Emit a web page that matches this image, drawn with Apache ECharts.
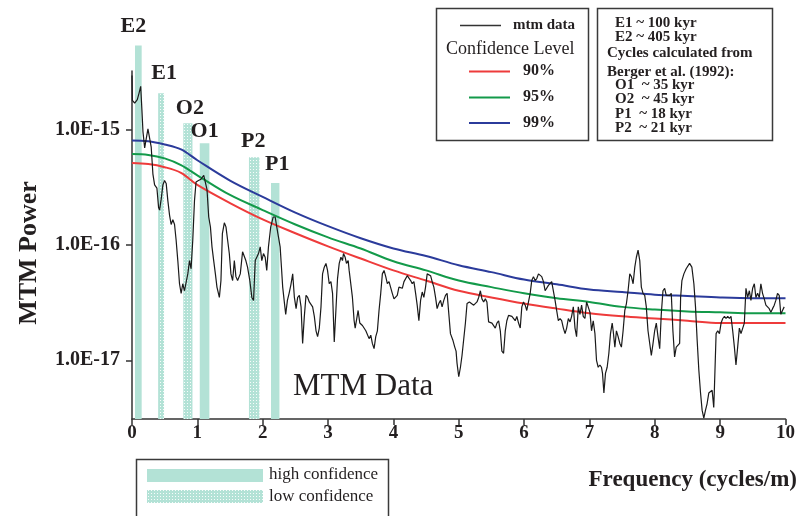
<!DOCTYPE html>
<html><head><meta charset="utf-8">
<script src="https://cdn.jsdelivr.net/npm/echarts@6/dist/echarts.min.js"></script>
<style>html,body{margin:0;padding:0;background:#fff}#c{width:798px;height:516px}</style>
</head><body><div id="c"></div>
<script>
const SERIF = "'Liberation Serif','Times New Roman',serif";
const INK = '#231f20';
const TEAL = '#b3e2d6';

// ---- data ----
const yTicks = [1e-17, 1e-16, 1e-15];
const xTicks = [0,1,2,3,4,5,6,7,8,9,10];

const barNames = ['E2','E1','O2','O1','P2','P1'];
const barFrom = [0.046, 0.40, 0.785, 1.037, 1.79, 2.127];
const barTo   = [0.148, 0.49, 0.925, 1.184, 1.95, 2.256];
const barTop  = [5.33e-15, 2.05e-15, 1.13e-15, 7.56e-16, 5.72e-16, 3.43e-16];
const barConfidence = ['high','low','low','high','low','high'];

const confFreq = [0,0.25,0.5,0.75,1,1.5,2,2.5,3,3.5,4,4.5,5,5.5,6,6.5,7,7.5,8,8.5,9,9.5,10];
const conf99 = [8.0e-16,7.9e-16,7.4e-16,6.7e-16,5.4e-16,3.6e-16,2.6e-16,1.9e-16,1.45e-16,1.14e-16,9.3e-17,8.0e-17,6.65e-17,5.8e-17,5.0e-17,4.55e-17,4.1e-17,3.9e-17,3.7e-17,3.6e-17,3.5e-17,3.45e-17,3.45e-17];
const conf95 = [6.1e-16,6.0e-16,5.6e-16,4.9e-16,4.0e-16,2.7e-16,2.0e-16,1.5e-16,1.16e-16,9.3e-17,7.2e-17,6.0e-17,4.9e-17,4.3e-17,3.8e-17,3.45e-17,3.2e-17,2.9e-17,2.75e-17,2.65e-17,2.6e-17,2.55e-17,2.55e-17];
const conf90 = [5.1e-16,5.0e-16,4.7e-16,4.2e-16,3.3e-16,2.3e-16,1.66e-16,1.26e-16,9.7e-17,7.6e-17,6.0e-17,4.9e-17,4.0e-17,3.5e-17,3.1e-17,2.8e-17,2.55e-17,2.4e-17,2.3e-17,2.2e-17,2.1e-17,2.1e-17,2.1e-17];

const mtmData = [
[0.000,2.93e-15],[0.005,1.78e-15],[0.041,1.69e-15],[0.081,1.81e-15],[0.107,2.05e-15],[0.133,2.36e-15],[0.152,1.46e-15],[0.168,9.5e-16],[0.194,6.9e-16],[0.218,8.3e-16],[0.244,1.01e-15],[0.270,1.05e-15],[0.294,7.0e-16],[0.320,4.1e-16],[0.346,3.3e-16],[0.381,3.1e-16],[0.407,2.1e-16],[0.422,2.0e-16],[0.447,2.5e-16],[0.473,3.3e-16],[0.498,3.6e-16],[0.523,3.4e-16],[0.549,2.4e-16],[0.575,1.8e-16],[0.599,1.5e-16],[0.625,1.65e-16],[0.651,1.5e-16],[0.675,1.1e-16],[0.701,7.3e-17],[0.727,4.6e-17],[0.752,3.8e-17],[0.777,4.6e-17],[0.803,4.0e-17],[0.828,4.0e-17],[0.854,5.6e-17],[0.880,7.3e-17],[0.904,6.2e-17],[0.930,1.1e-16],[0.956,2.4e-16],[0.980,3.5e-16],[1.017,3.6e-16],[1.056,3.7e-16],[1.098,4.0e-16],[1.123,4.0e-16],[1.148,3.0e-16],[1.174,1.74e-16],[1.200,1.43e-16],[1.224,9.6e-17],[1.250,7.3e-17],[1.276,5.6e-17],[1.300,4.3e-17],[1.337,3.5e-17],[1.361,4.9e-17],[1.383,1.25e-16],[1.413,1.55e-16],[1.438,1.43e-16],[1.463,1.1e-16],[1.489,8.4e-17],[1.514,5.6e-17],[1.540,4.9e-17],[1.566,7.3e-17],[1.590,5.3e-17],[1.616,4.9e-17],[1.657,5.6e-17],[1.692,8.7e-17],[1.718,9.0e-17],[1.742,7.3e-17],[1.768,6.4e-17],[1.803,4.9e-17],[1.834,3.5e-17],[1.860,3.3e-17],[1.886,7.3e-17],[1.910,7.3e-17],[1.936,8.4e-17],[1.962,9.6e-17],[1.986,7.3e-17],[2.012,8.4e-17],[2.038,7.8e-17],[2.062,6.0e-17],[2.088,9.6e-17],[2.123,1.43e-16],[2.160,1.74e-16],[2.191,1.74e-16],[2.215,1.43e-16],[2.241,1.17e-16],[2.267,9.6e-17],[2.287,6.4e-17],[2.306,4.3e-17],[2.328,3.3e-17],[2.352,2.5e-17],[2.378,3.3e-17],[2.404,3.8e-17],[2.431,4.5e-17],[2.459,5.6e-17],[2.485,3.5e-17],[2.511,2.8e-17],[2.535,3.5e-17],[2.561,3.65e-17],[2.587,2.9e-17],[2.611,1.4e-17],[2.637,2.4e-17],[2.663,3.65e-17],[2.688,3.5e-17],[2.713,3.2e-17],[2.739,3.3e-17],[2.764,2.9e-17],[2.790,2.4e-17],[2.816,1.8e-17],[2.840,1.6e-17],[2.866,1.9e-17],[2.892,2.9e-17],[2.916,5.6e-17],[2.942,6.4e-17],[2.968,6.9e-17],[2.992,6.0e-17],[3.018,4.6e-17],[3.044,4.8e-17],[3.069,3.8e-17],[3.095,1.44e-17],[3.120,2.7e-17],[3.145,5.1e-17],[3.171,6.9e-17],[3.197,7.8e-17],[3.221,7.3e-17],[3.236,8.4e-17],[3.262,7.8e-17],[3.282,6.9e-17],[3.308,7.3e-17],[3.323,6.0e-17],[3.349,5.8e-17],[3.373,3.5e-17],[3.399,2.2e-17],[3.415,1.9e-17],[3.434,1.9e-17],[3.460,2.7e-17],[3.486,2.1e-17],[3.526,2.0e-17],[3.578,1.8e-17],[3.628,1.54e-17],[3.654,1.65e-17],[3.678,1.4e-17],[3.704,1.26e-17],[3.730,1.6e-17],[3.755,1.8e-17],[3.780,2.7e-17],[3.806,3.8e-17],[3.831,5.6e-17],[3.857,6.0e-17],[3.883,5.3e-17],[3.907,4.6e-17],[3.933,4.8e-17],[3.959,4.9e-17],[3.983,3.8e-17],[4.009,3.4e-17],[4.035,3.5e-17],[4.059,3.65e-17],[4.085,4.3e-17],[4.111,4.45e-17],[4.136,4.2e-17],[4.162,4.8e-17],[4.188,4.9e-17],[4.212,5.4e-17],[4.238,5.3e-17],[4.264,4.9e-17],[4.288,4.6e-17],[4.314,4.8e-17],[4.340,3.8e-17],[4.364,3.0e-17],[4.390,2.2e-17],[4.416,3.3e-17],[4.441,3.9e-17],[4.466,3.5e-17],[4.492,4.3e-17],[4.517,5.6e-17],[4.543,5.7e-17],[4.569,5.4e-17],[4.593,4.8e-17],[4.619,4.3e-17],[4.645,3.5e-17],[4.669,2.8e-17],[4.695,3.1e-17],[4.721,3.3e-17],[4.745,2.9e-17],[4.771,3.3e-17],[4.797,3.65e-17],[4.822,3.8e-17],[4.848,3.8e-17],[4.873,1.7e-17],[4.909,1.5e-17],[4.939,1.3e-17],[4.959,1.2e-17],[4.974,9.4e-18],[5.000,7.2e-18],[5.026,8.7e-18],[5.050,1.1e-17],[5.076,1.07e-17],[5.102,2.1e-17],[5.127,3.1e-17],[5.163,3.2e-17],[5.188,3.1e-17],[5.229,3.0e-17],[5.255,3.1e-17],[5.279,3.2e-17],[5.305,3.5e-17],[5.331,4.0e-17],[5.355,3.4e-17],[5.381,3.2e-17],[5.407,3.4e-17],[5.431,3.2e-17],[5.457,2.15e-17],[5.483,2.1e-17],[5.508,2.1e-17],[5.559,1.9e-17],[5.584,2.1e-17],[5.610,2.2e-17],[5.636,1.8e-17],[5.660,1.2e-17],[5.686,1.15e-17],[5.712,1.8e-17],[5.736,2.2e-17],[5.762,2.45e-17],[5.788,2.4e-17],[5.813,2.4e-17],[5.838,2.45e-17],[5.864,2.2e-17],[5.889,2.4e-17],[5.915,2.1e-17],[5.941,1.9e-17],[5.965,2.9e-17],[5.991,3.2e-17],[6.017,3.0e-17],[6.041,2.7e-17],[6.067,2.8e-17],[6.093,3.8e-17],[6.117,4.9e-17],[6.143,5.3e-17],[6.169,4.9e-17],[6.194,5.1e-17],[6.220,5.6e-17],[6.245,5.4e-17],[6.270,5.3e-17],[6.296,4.8e-17],[6.322,4.0e-17],[6.372,4.45e-17],[6.422,4.8e-17],[6.448,4.9e-17],[6.474,3.3e-17],[6.498,2.7e-17],[6.524,2.2e-17],[6.550,2.3e-17],[6.575,2.2e-17],[6.601,1.9e-17],[6.627,1.7e-17],[6.651,1.9e-17],[6.677,2.3e-17],[6.703,2.15e-17],[6.727,2.4e-17],[6.753,2.9e-17],[6.779,1.9e-17],[6.803,1.6e-17],[6.829,2.9e-17],[6.855,2.5e-17],[6.880,3.0e-17],[6.905,2.4e-17],[6.931,2.3e-17],[6.956,3.2e-17],[6.982,3.1e-17],[7.008,2.6e-17],[7.032,1.8e-17],[7.058,2.2e-17],[7.084,1.7e-17],[7.108,1.0e-17],[7.134,8.7e-18],[7.160,9.1e-18],[7.184,8.7e-18],[7.200,7.7e-18],[7.221,5.2e-18],[7.245,7.7e-18],[7.271,8.7e-18],[7.297,1.15e-17],[7.322,1.7e-17],[7.348,2.1e-17],[7.363,1.8e-17],[7.389,1.3e-17],[7.413,1.8e-17],[7.439,1.6e-17],[7.465,1.4e-17],[7.489,1.3e-17],[7.515,1.8e-17],[7.541,2.7e-17],[7.566,3.1e-17],[7.591,4.0e-17],[7.617,5.6e-17],[7.642,5.3e-17],[7.668,4.6e-17],[7.694,6.4e-17],[7.718,7.8e-17],[7.744,9.0e-17],[7.770,7.3e-17],[7.794,4.3e-17],[7.820,3.8e-17],[7.846,3.65e-17],[7.870,2.9e-17],[7.896,1.8e-17],[7.922,1.8e-17],[7.947,1.1e-17],[7.973,1.4e-17],[7.998,1.8e-17],[8.023,2.1e-17],[8.049,1.6e-17],[8.075,1.26e-17],[8.099,2.5e-17],[8.125,4.0e-17],[8.151,4.2e-17],[8.175,3.65e-17],[8.201,3.65e-17],[8.227,3.65e-17],[8.252,3.8e-17],[8.277,1.8e-17],[8.303,1.07e-17],[8.328,1.3e-17],[8.354,1.35e-17],[8.380,1.4e-17],[8.395,3.5e-17],[8.415,4.9e-17],[8.445,5.6e-17],[8.480,6.2e-17],[8.532,6.9e-17],[8.567,6.4e-17],[8.598,4.6e-17],[8.623,2.9e-17],[8.648,1.5e-17],[8.674,8.2e-18],[8.700,5.2e-18],[8.724,3.7e-18],[8.750,3.15e-18],[8.776,3.7e-18],[8.800,4.2e-18],[8.826,5.2e-18],[8.852,5.0e-18],[8.877,5.5e-18],[8.902,3.9e-18],[8.913,5.9e-18],[8.938,1.7e-17],[8.963,1.8e-17],[8.989,1.7e-17],[9.014,2.1e-17],[9.040,2.3e-17],[9.066,2.4e-17],[9.090,2.3e-17],[9.116,2.4e-17],[9.142,2.3e-17],[9.166,2.4e-17],[9.192,1.8e-17],[9.218,1.3e-17],[9.242,9.1e-18],[9.268,1.3e-17],[9.294,1.9e-17],[9.319,1.7e-17],[9.345,1.65e-17],[9.370,2.1e-17],[9.395,4.2e-17],[9.421,3.5e-17],[9.447,4.0e-17],[9.471,3.3e-17],[9.497,4.2e-17],[9.523,4.6e-17],[9.547,3.5e-17],[9.573,3.8e-17],[9.599,3.5e-17],[9.623,4.6e-17],[9.649,3.8e-17],[9.675,3.4e-17],[9.700,3.0e-17],[9.726,2.9e-17],[9.751,2.8e-17],[9.776,2.6e-17],[9.802,2.8e-17],[9.828,3.0e-17],[9.852,3.3e-17],[9.878,3.8e-17],[9.904,3.65e-17],[9.928,2.5e-17],[9.954,2.7e-17],[9.980,2.9e-17]
];

const cycleNotes = ['E1 ~ 100 kyr','E2 ~ 405 kyr','Cycles calculated from','Berger et al. (1992):','O1  ~ 35 kyr','O2  ~ 45 kyr','P1  ~ 18 kyr','P2  ~ 21 kyr'];

// ---- styling (label nudges, note positions) ----
const labelDx = [-5, 3, 2, 0, -1, 2];
const labelDy = [-19, -20, -15, -12, -16, -19];
const noteX = [615, 615, 607, 607, 615, 615, 615, 615];
const noteY = [23, 37.5, 53.5, 72, 85, 99.5, 114, 128];

function makeDots() {
  const c = document.createElement('canvas');
  c.width = 3; c.height = 3;
  const g = c.getContext('2d');
  g.fillStyle = TEAL; g.fillRect(0, 0, 3, 3);
  g.fillStyle = 'rgba(255,255,255,0.9)'; g.fillRect(1, 1, 1, 1);
  return c;
}
const dotPattern = { image: makeDots(), repeat: 'repeat' };

function txt(text, x, y, size, weight, align, extra) {
  return Object.assign({
    type: 'text', x: x, y: y, z: 20,
    style: { text: text, font: (weight || 'normal') + ' ' + size + 'px ' + SERIF, fill: INK,
      align: align || 'left', textAlign: align || 'left', verticalAlign: 'middle', textVerticalAlign: 'middle' }
  }, extra || {});
}
function hline(x1, x2, y, color, w) {
  return { type: 'line', z: 20, shape: { x1: x1, y1: y, x2: x2, y2: y }, style: { stroke: color, lineWidth: w } };
}

const RED = '#ee3b3b', GREEN = '#139a4a', BLUE = '#2b3b9b';

const graphics = [
  { type: 'rect', z: 19, shape: { x: 436.5, y: 8.5, width: 152, height: 132 }, style: { fill: '#fff', stroke: '#3a3a3a', lineWidth: 1.5 } },
  hline(460, 501, 25.5, '#333', 1.5),
  txt('mtm data', 513, 25, 15, 'bold'),
  txt('Confidence Level', 446, 49, 18, 'normal'),
  hline(469, 510, 71.5, RED, 1.8), txt('90%', 523, 71, 16, 'bold'),
  hline(469, 510, 97.5, GREEN, 2), txt('95%', 523, 97, 16, 'bold'),
  hline(469, 510, 123, BLUE, 2), txt('99%', 523, 123, 16, 'bold'),
  { type: 'rect', z: 19, shape: { x: 597.5, y: 8.5, width: 175, height: 132 }, style: { fill: '#fff', stroke: '#3a3a3a', lineWidth: 1.5 } },
  { type: 'rect', z: 19, shape: { x: 136.5, y: 459.5, width: 252, height: 70 }, style: { fill: '#fff', stroke: '#3a3a3a', lineWidth: 1.5 } },
  { type: 'rect', z: 20, shape: { x: 147, y: 469, width: 116, height: 13 }, style: { fill: TEAL } },
  { type: 'rect', z: 20, shape: { x: 147, y: 490, width: 116, height: 13 }, style: { fill: dotPattern } },
  txt('high confidence', 269, 475, 17, 'normal'),
  txt('low confidence', 269, 496.5, 17, 'normal'),
  txt('MTM Data', 293, 387, 31, 'normal'),
  txt('MTM Power', 29, 253, 26, 'bold', 'center', { rotation: Math.PI / 2 }),
  txt('Frequency (cycles/m)', 797, 480, 23, 'bold', 'right')
];
cycleNotes.forEach((t, i) => graphics.push(txt(t, noteX[i], noteY[i], 15, 'bold')));

const chart = echarts.init(document.getElementById('c'), null, { renderer: 'canvas' });
chart.setOption({
  animation: false,
  backgroundColor: '#fff',
  grid: { left: 132, right: 10, top: 71, bottom: 97, containLabel: false },
  xAxis: {
    type: 'value', min: 0, max: 10, interval: 1,
    axisLine: { onZero: false, lineStyle: { color: '#333', width: 1.5 } },
    axisTick: { length: 6, lineStyle: { color: '#333', width: 1.5 } },
    axisLabel: { color: INK, fontFamily: SERIF, fontWeight: 'bold', fontSize: 19, margin: 5,
      formatter: v => (xTicks.indexOf(v) >= 0 ? String(v) : '') },
    splitLine: { show: false }
  },
  yAxis: {
    type: 'log', logBase: 10, min: 3.1e-18, max: 3.2e-15,
    axisLine: { show: true, onZero: false, lineStyle: { color: '#333', width: 1.5 } },
    axisTick: { show: true, length: 6, customValues: yTicks, lineStyle: { color: '#333', width: 1.5 } },
    axisLabel: { color: INK, fontFamily: SERIF, fontWeight: 'bold', fontSize: 20, margin: 12,
      customValues: yTicks,
      formatter: v => {
        const l = Math.log10(v);
        return Math.abs(l - Math.round(l)) < 1e-6 ? v.toExponential(1).toUpperCase() : '';
      } },
    splitLine: { show: false }
  },
  graphic: graphics,
  series: [
    {
      type: 'custom', z: 1, clip: false,
      data: barNames.map((n, i) => [barFrom[i], barTo[i], barTop[i], i]),
      encode: { x: [0, 1], y: 2 },
      renderItem: function (params, api) {
        const i = api.value(3);
        const a = api.coord([api.value(0), api.value(2)]);
        const b = api.coord([api.value(1), api.value(2)]);
        const cs = params.coordSys;
        const bottom = cs.y + cs.height;
        const fill = barConfidence[i] === 'high' ? TEAL : dotPattern;
        return { type: 'group', children: [
          { type: 'rect', shape: { x: a[0], y: a[1], width: b[0] - a[0], height: bottom - a[1] }, style: { fill: fill } },
          { type: 'text', x: (a[0] + b[0]) / 2 + labelDx[i], y: a[1] + labelDy[i],
            style: { text: barNames[i], font: 'bold 22px ' + SERIF, fill: INK, align: 'center', verticalAlign: 'middle', textAlign: 'center', textVerticalAlign: 'middle' } }
        ] };
      }
    },
    { type: 'line', z: 2, name: '90%', symbol: 'none', smooth: 0.35, data: confFreq.map((f, i) => [f, conf90[i]]), lineStyle: { color: RED, width: 2 } },
    { type: 'line', z: 2, name: '95%', symbol: 'none', smooth: 0.35, data: confFreq.map((f, i) => [f, conf95[i]]), lineStyle: { color: GREEN, width: 2 } },
    { type: 'line', z: 2, name: '99%', symbol: 'none', smooth: 0.35, data: confFreq.map((f, i) => [f, conf99[i]]), lineStyle: { color: BLUE, width: 2 } },
    { type: 'line', z: 3, name: 'mtm data', symbol: 'none', data: mtmData, lineStyle: { color: '#1a1a1a', width: 1.2 } }
  ]
});
</script></body></html>
